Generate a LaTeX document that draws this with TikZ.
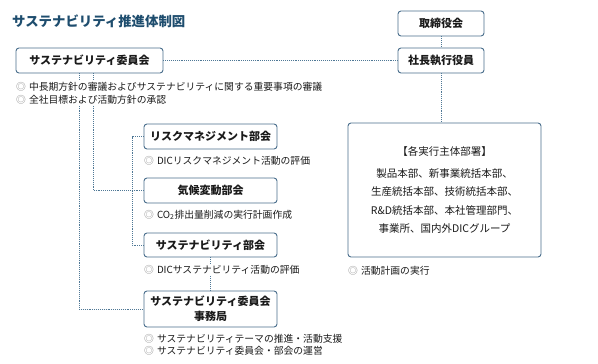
\documentclass[tikz,border=0pt]{standalone}
\usepackage{fontspec}
\setmainfont{Noto Sans CJK JP}
\definecolor{titleblue}{HTML}{1E4D6E}
\definecolor{boxline}{HTML}{4A6E8C}
\definecolor{dotline}{HTML}{4F7896}
\definecolor{bulletgray}{HTML}{8A8A8A}
\definecolor{txt}{HTML}{1A1A1A}
\tikzset{
  orgbox/.style={draw=boxline, line width=0.9pt, rounded corners=3pt, fill=white,
    text=txt, font=\fontsize{11}{13}\selectfont\bfseries, align=center, inner sep=2pt},
  dotlink/.style={draw=dotline, line width=0.9pt, densely dotted},
  note/.style={anchor=west, text=txt, font=\fontsize{9.8}{12}\selectfont, inner xsep=0pt, inner ysep=1pt, fill=white}
}
\newcommand{\bul}{{\color{bulletgray}◎}\hspace{3pt}}
\begin{document}
\begin{tikzpicture}[x=1pt,y=-1pt]
\useasboundingbox (0,0) rectangle (598,364);
% title
\node[anchor=west, text=titleblue, font=\fontsize{13.4}{15}\selectfont\bfseries, inner sep=0pt] (title) at (12,21) {サステナビリティ推進体制図};
% boxes
\node[orgbox, minimum width=147pt, minimum height=25pt] (comm) at (89.5,60.5) {サステナビリティ委員会};
\node[orgbox, minimum width=86pt, minimum height=25pt] (board) at (441,23.5) {取締役会};
\node[orgbox, minimum width=86pt, minimum height=25pt] (pres) at (441,60.5) {社長執行役員};
\node[orgbox, minimum width=133pt, minimum height=25pt] (risk) at (210.5,136.5) {リスクマネジメント部会};
\node[orgbox, minimum width=133pt, minimum height=25pt] (clim) at (210.5,190.5) {気候変動部会};
\node[orgbox, minimum width=133pt, minimum height=24pt] (sust) at (210.5,245) {サステナビリティ部会};
\node[orgbox, minimum width=133pt, minimum height=36pt, font=\fontsize{11}{15}\selectfont\bfseries] (office) at (210.5,309) {サステナビリティ委員会\\事務局};
\node[orgbox, minimum width=193pt, minimum height=134pt, font=\fontsize{10.5}{18.5}\selectfont] (big) at (444.5,190) {【各実行主体部署】\\[3pt]製品本部、新事業統括本部、\\生産統括本部、技術統括本部、\\R\&D統括本部、本社管理部門、\\事業所、国内外DICグループ};
% helper coordinates
\coordinate (c1) at (79,0);
\coordinate (c2) at (93,0);
\coordinate (c3) at (132,0);
% connectors
\draw[dotlink] (comm.east) -- (pres.west);
\draw[dotlink] (board.south) -- (pres.north);
\draw[dotlink] (pres.south) -- (pres.south |- big.north);
\draw[dotlink] (comm.south -| c1) |- (office.west);
\draw[dotlink] (comm.south -| c2) |- (clim.west);
\draw[dotlink] (risk.west) -- (risk.west -| c3) |- (sust.west);
\draw[dotlink] (sust.south) -- (office.north);
% notes
\node[note] (n1) at (16,87) {\bul 中長期方針の審議およびサステナビリティに関する重要事項の審議};
\node[note] (n2) at (16,99.5) {\bul 全社目標および活動方針の承認};
\node[note] (n3) at (144,160.5) {\bul DICリスクマネジメント活動の評価};
\node[note] (n4) at (144,215) {\bul CO\textsubscript{2}排出量削減の実行計画作成};
\node[note] (n5) at (144,270) {\bul DICサステナビリティ活動の評価};
\node[note] (n6) at (144,338.5) {\bul サステナビリティテーマの推進・活動支援};
\node[note] (n7) at (144,350.5) {\bul サステナビリティ委員会・部会の運営};
\node[note] (n8) at (348,270.5) {\bul 活動計画の実行};
\end{tikzpicture}
\end{document}
